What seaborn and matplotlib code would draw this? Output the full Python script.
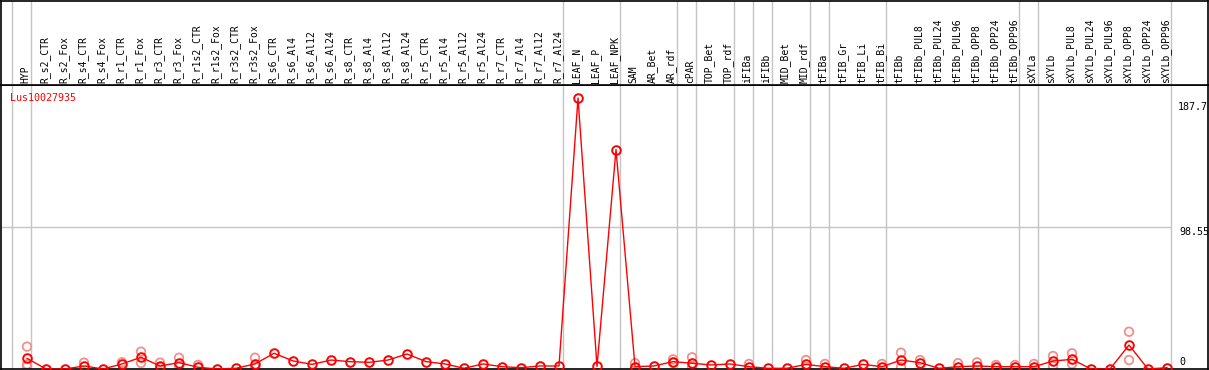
import matplotlib
matplotlib.use("Agg")
import matplotlib.pyplot as plt
import seaborn as sns
import pandas as pd

samples = [
    "HYP", "R_s2_CTR", "R_s2_Fox", "R_s4_CTR", "R_s4_Fox", "R_r1_CTR", "R_r1_Fox",
    "R_r3_CTR", "R_r3_Fox", "R_r1s2_CTR", "R_r1s2_Fox", "R_r3s2_CTR", "R_r3s2_Fox",
    "R_s6_CTR", "R_s6_Al4", "R_s6_Al12", "R_s6_Al24", "R_s8_CTR", "R_s8_Al4",
    "R_s8_Al12", "R_s8_Al24", "R_r5_CTR", "R_r5_Al4", "R_r5_Al12", "R_r5_Al24",
    "R_r7_CTR", "R_r7_Al4", "R_r7_Al12", "R_r7_Al24", "LEAF_N", "LEAF_P", "LEAF_NPK",
    "SAM", "AR_Bet", "AR_rdf", "cPAR", "TOP_Bet", "TOP_rdf", "iFIBa", "iFIBb",
    "MID_Bet", "MID_rdf", "tFIBa", "tFIB_Gr", "tFIB_Li", "tFIB_Bi", "tFIBb",
    "tFIBb_PUL8", "tFIBb_PUL24", "tFIBb_PUL96", "tFIBb_OPP8", "tFIBb_OPP24",
    "tFIBb_OPP96", "sXYLa", "sXYLb", "sXYLb_PUL8", "sXYLb_PUL24", "sXYLb_PUL96",
    "sXYLb_OPP8", "sXYLb_OPP24", "sXYLb_OPP96",
]

mean_values = [
    7.4, 0.0, 0.0, 2.1, 0.0, 3.5, 8.1,
    2.1, 4.4, 1.2, 0.0, 0.5, 3.5,
    10.9, 5.6, 3.2, 6.2, 5.1, 4.6,
    6.2, 10.4, 5.1, 3.5, 0.5, 3.5,
    1.6, 0.9, 2.1, 2.1, 187.7, 1.8, 152.0,
    1.6, 2.1, 5.1, 4.0, 2.8, 3.5, 1.6, 0.5,
    0.5, 3.2, 1.6, 0.5, 3.2, 1.6, 6.2,
    4.4, 0.5, 1.6, 2.1, 1.6,
    1.6, 1.6, 5.5, 6.7, 0.0, 0.0,
    16.6, 0.0, 0.9,
]

# visible individual replicates (sample name, value)
rep_samples = [
    "HYP", "HYP", "HYP", "R_s4_CTR", "R_r1_CTR", "R_r1_Fox", "R_r1_Fox",
    "R_r3_CTR", "R_r3_CTR", "R_r3_Fox", "R_r3_Fox", "R_r1s2_CTR",
    "R_r3s2_Fox", "R_r3s2_Fox", "SAM", "SAM", "AR_rdf", "AR_rdf",
    "cPAR", "cPAR", "iFIBa", "MID_rdf", "MID_rdf", "tFIBa", "tFIB_Bi",
    "tFIBb", "tFIBb", "tFIBb_PUL8", "tFIBb_PUL96", "tFIBb_OPP8",
    "tFIBb_OPP24", "tFIBb_OPP96", "sXYLa", "sXYLb", "sXYLb",
    "sXYLb_PUL8", "sXYLb_PUL8", "sXYLb_OPP8", "sXYLb_OPP8",
]
rep_values = [
    15.5, 3.2, 1.8, 4.4, 4.6, 12.0, 4.2,
    4.4, 1.0, 7.8, 2.1, 2.8,
    7.8, 1.5, 4.0, 1.0, 6.7, 4.4,
    8.1, 1.5, 3.5, 6.2, 1.5, 3.5, 3.5,
    11.3, 1.2, 6.2, 4.0, 4.6,
    2.8, 2.8, 3.5, 9.0, 2.0,
    10.9, 3.5, 25.8, 6.2,
]

gene_name = "Lus10027935"
y_max_label = 187.7
y_mid_label = 98.55
# group boundaries: a separator is drawn right after these sample indices
group_ends = [-1, 0, 28, 31, 34, 35, 37, 38, 39, 41, 42, 45, 52, 53, 60]

pos = {s: i for i, s in enumerate(samples)}
df_mean = pd.DataFrame({"x": range(len(samples)), "value": mean_values})
df_rep = pd.DataFrame({"x": [pos[s] for s in rep_samples], "value": rep_values})

plt.rcParams["font.family"] = ["DejaVu Sans Mono", "DejaVu Sans"]

W, H = 1209, 370
fig = plt.figure(figsize=(W / 100, H / 100), dpi=100)

x0 = (1 - 27) / 19
x1 = (1208 - 27) / 19
ytop = y_max_label * (369 - 85) / (369 - 98)

ax = fig.add_axes([1 / W, 1 / H, 1207 / W, 284 / H])
hd = fig.add_axes([1 / W, 285 / H, 1207 / W, 84.5 / H])

grey = "#C4C4C4"
sep_x = [g + 0.21 for g in group_ends]
for a in (ax, hd):
    for sx in sep_x:
        a.axvline(sx, color=grey, lw=1, zorder=1)
    a.set_xlim(x0, x1)
    a.set_xticks([])
    a.set_yticks([])
    for sp in a.spines.values():
        sp.set_color("black")
        sp.set_linewidth(1.2)

ax.set_ylim(0, ytop)
hd.set_ylim(0, 1)
ax.hlines(y_mid_label, x0, sep_x[-1], color=grey, lw=1, zorder=1)

sns.scatterplot(data=df_rep, x="x", y="value", ax=ax, marker="o", s=38,
                facecolor="none", edgecolor="#F0908C", linewidth=1.3, zorder=2)
sns.lineplot(data=df_mean, x="x", y="value", ax=ax, color="red", linewidth=1,
             marker="o", markersize=6.2, markerfacecolor="none",
             markeredgecolor="red", markeredgewidth=1.4, errorbar=None, zorder=3)
ax.set_xlabel("")
ax.set_ylabel("")
ax.set_xlim(x0, x1)
ax.set_ylim(0, ytop)

for i, s in enumerate(samples):
    hd.annotate(s, (i - 0.08, 0), xytext=(0, 2), textcoords="offset pixels",
                rotation=90, ha="center", va="bottom", fontsize=7, color="black")

ax.annotate(gene_name, (x0, ytop), xytext=(9, -13), textcoords="offset pixels",
            ha="left", va="center", fontsize=7.2, color="red")

xr = (1178 - 27) / 19
ax.annotate(f"{y_max_label}", (xr, y_max_label), xytext=(0, -9), textcoords="offset pixels",
            ha="left", va="center", fontsize=7.2, color="black")
ax.annotate(f"{y_mid_label}", (xr, y_mid_label), xytext=(1, -5), textcoords="offset pixels",
            ha="left", va="center", fontsize=7.2, color="black")
ax.annotate("0", (xr, 0), xytext=(1, 7), textcoords="offset pixels",
            ha="left", va="center", fontsize=7.2, color="black")

fig.savefig("out.png", dpi=100)
